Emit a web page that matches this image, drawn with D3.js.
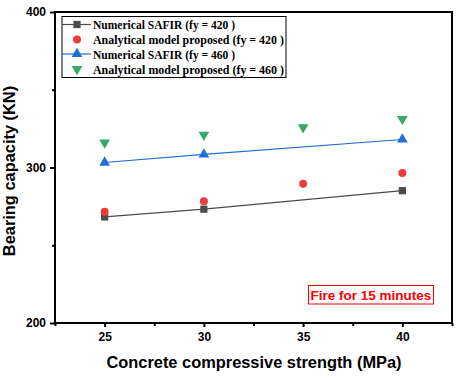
<!DOCTYPE html>
<html><head><meta charset="utf-8">
<script src="https://cdn.jsdelivr.net/npm/d3@7"></script>
<style>html,body{margin:0;padding:0;background:#fff;}svg{display:block;}</style>
</head><body>
<script>
const strengths = [25, 30, 35, 40];
const safir420X = [25, 30, 40];
const safir420 = [268.2, 273.2, 285.1];
const model420 = [271.5, 278.3, 289.5, 296.5];
const safir460X = [25, 30, 40];
const safir460 = [303.2, 308.4, 318.0];
const model460 = [316.0, 321.0, 325.8, 331.2];
const yTicks = [200, 300, 400];
const yMinor = [250, 350];
const xTicks = [25, 30, 35, 40];
const xMinor = [22.5, 27.5, 32.5, 37.5, 42.5];
const legendLabels = ["Numerical SAFIR (fy = 420 )", "Analytical model proposed (fy = 420 )", "Numerical SAFIR (fy = 460 )", "Analytical model proposed (fy = 460 )"];

const W = 457, H = 378;
const m = {left: 55, right: 5, top: 12, bottom: 55};
const svg = d3.select("body").append("svg").attr("width", W).attr("height", H);
const x = d3.scaleLinear().domain([22.5, 42.5]).range([m.left, W - m.right]);
const y = d3.scaleLinear().domain([200, 400]).range([H - m.bottom, m.top]);

const cGray = "#4b4b4b", cRed = "#ee3b3b", cBlue = "#1f6fd8", cGreen = "#36a86a";

// frame
svg.append("rect").attr("x", x(22.5)).attr("y", y(400)).attr("width", x(42.5) - x(22.5)).attr("height", y(200) - y(400))
  .attr("fill", "none").attr("stroke", "#000").attr("stroke-width", 2);

// axes
const xAxis = d3.axisBottom(x).tickValues(xTicks).tickSize(4).tickPadding(5).tickFormat(d3.format("d"));
const gx = svg.append("g").attr("transform", `translate(0,${y(200)})`).call(xAxis);
const xAxisMinor = d3.axisBottom(x).tickValues(xMinor).tickSize(3).tickFormat("");
const gxm = svg.append("g").attr("transform", `translate(0,${y(200)})`).call(xAxisMinor);
const yAxis = d3.axisLeft(y).tickValues(yTicks).tickSize(5).tickPadding(4).tickFormat(d3.format("d"));
const gy = svg.append("g").attr("transform", `translate(${x(22.5)},0)`).call(yAxis);
const yAxisMinor = d3.axisLeft(y).tickValues(yMinor).tickSize(3).tickFormat("");
const gym = svg.append("g").attr("transform", `translate(${x(22.5)},0)`).call(yAxisMinor);
[gx, gxm, gy, gym].forEach(g => {
  g.select(".domain").remove();
  g.selectAll(".tick line").attr("stroke", "#000").attr("stroke-width", 2);
  g.selectAll("text").attr("font-family", "Arial, 'Liberation Sans', sans-serif").attr("font-weight", "bold").attr("font-size", 12).attr("fill", "#000");
});

// axis titles
svg.append("text").attr("x", 254).attr("y", 368).attr("text-anchor", "middle")
  .attr("font-family", "Arial, 'Liberation Sans', sans-serif").attr("font-weight", "bold").attr("font-size", 16.4)
  .text("Concrete compressive strength (MPa)");
svg.append("text").attr("transform", `translate(15,171) rotate(-90)`).attr("text-anchor", "middle")
  .attr("font-family", "Arial, 'Liberation Sans', sans-serif").attr("font-weight", "bold").attr("font-size", 16.4)
  .text("Bearing capacity (KN)");

// lines
const line = d3.line().x(d => x(d[0])).y(d => y(d[1]));
const s420 = safir420X.map((v, i) => [v, safir420[i]]);
const s460 = safir460X.map((v, i) => [v, safir460[i]]);
svg.append("path").datum(s420).attr("d", line).attr("fill", "none").attr("stroke", cGray).attr("stroke-width", 1.2);
svg.append("path").datum(s460).attr("d", line).attr("fill", "none").attr("stroke", cBlue).attr("stroke-width", 1.2);

const sym = {
  square: d3.symbol().type(d3.symbolSquare).size(52),
  circle: d3.symbol().type(d3.symbolCircle).size(50),
  up: d3.symbol().type(d3.symbolTriangle).size(50),
};
function drawPts(data, path, color, flip) {
  svg.append("g").selectAll("path").data(data).join("path")
    .attr("d", path)
    .attr("transform", d => `translate(${x(d[0])},${y(d[1])})${flip ? " rotate(180)" : ""}`)
    .attr("fill", color);
}
drawPts(s420, sym.square, cGray, false);
drawPts(strengths.map((v, i) => [v, model420[i]]), sym.circle, cRed, false);
drawPts(s460, sym.up, cBlue, false);
drawPts(strengths.map((v, i) => [v, model460[i]]), sym.up, cGreen, true);

// legend
const lg = svg.append("g");
lg.append("rect").attr("x", 62).attr("y", 16.5).attr("width", 224).attr("height", 61).attr("fill", "#fff").attr("stroke", "#000").attr("stroke-width", 1);
const rowsY = [24.5, 39.5, 54, 69];
const legendWidths = [142, 191, 142, 191];
const legendDefs = [
  {path: sym.square, color: cGray, line: true, flip: false},
  {path: sym.circle, color: cRed, line: false, flip: false},
  {path: sym.up, color: cBlue, line: true, flip: false},
  {path: sym.up, color: cGreen, line: false, flip: true},
];
legendDefs.forEach((d, i) => {
  const ry = rowsY[i];
  if (d.line) lg.append("line").attr("x1", 62).attr("x2", 91).attr("y1", ry).attr("y2", ry).attr("stroke", d.color).attr("stroke-width", 1.2);
  lg.append("path").attr("d", d.path).attr("transform", `translate(77,${ry})${d.flip ? " rotate(180)" : ""}`).attr("fill", d.color);
  lg.append("text").attr("x", 93).attr("y", ry + 4.5).attr("font-family", "'Times New Roman', 'Liberation Serif', serif")
    .attr("font-weight", "bold").attr("font-size", 12.5).attr("fill", "#000")
    .attr("textLength", legendWidths[i]).attr("lengthAdjust", "spacingAndGlyphs").text(legendLabels[i]);
});

// annotation
svg.append("rect").attr("x", 308.5).attr("y", 285.5).attr("width", 125).attr("height", 18.5).attr("fill", "#fff").attr("stroke", "#ff0000").attr("stroke-width", 1);
svg.append("text").attr("x", 371).attr("y", 299.8).attr("text-anchor", "middle").attr("font-family", "Arial, 'Liberation Sans', sans-serif")
  .attr("font-weight", "bold").attr("font-size", 13.5).attr("fill", "#ff0000").text("Fire for 15 minutes");
</script>
</body></html>
